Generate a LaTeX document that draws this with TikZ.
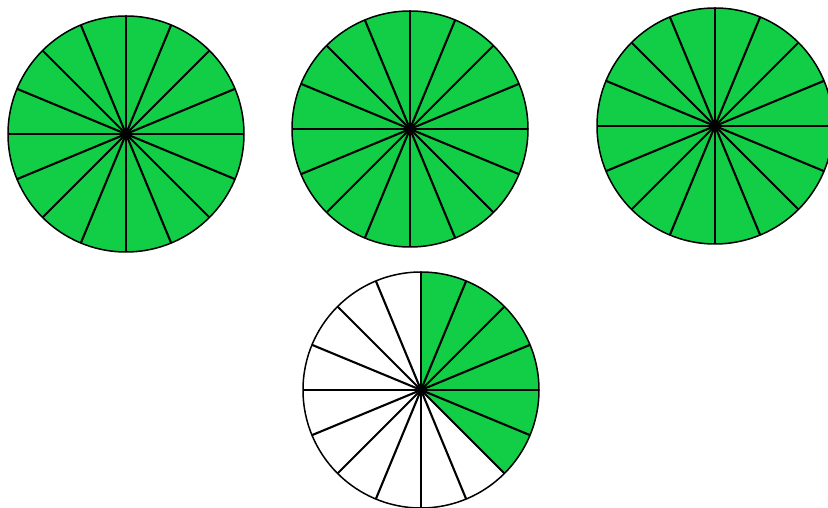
\documentclass[tikz,border=0pt]{standalone}
\usepackage{xcolor}
\usepackage{tikz}

\definecolor{pieGreen}{RGB}{18,206,71}

\begin{document}
\begin{tikzpicture}[x=1pt,y=1pt,
    rim/.style={draw=black,line width=1.5pt},
    spoke/.style={black,line width=2.1pt},
    wedge/.style={fill=pieGreen}]

  % Page frame (828 x 508)
  \useasboundingbox (0,0) rectangle (828,508);
  \clip (0,0) rectangle (828,508);

  % Centres of the four pies
  \coordinate (pieA) at (126,374);
  \coordinate (pieB) at (410,379);
  \coordinate (pieC) at (715,382);
  \coordinate (pieD) at (421,118);

  % Three whole pies
  \foreach \p in {pieA,pieB,pieC}{
    \fill[wedge] (\p) circle[radius=118];
    \foreach \a in {0,22.5,...,337.5}
      \draw[spoke] (\p) -- ++(\a:118);
    \draw[rim] (\p) circle[radius=118];
  }

  % Part pie: 6 of 16 slices
  \fill[white] (pieD) circle[radius=118];
  \fill[wedge] (pieD) -- ++(-45:118) arc[start angle=-45,end angle=90,radius=118] -- cycle;
  \foreach \a in {0,22.5,...,337.5}
    \draw[spoke] (pieD) -- ++(\a:118);
  \draw[rim] (pieD) circle[radius=118];

\end{tikzpicture}
\end{document}
